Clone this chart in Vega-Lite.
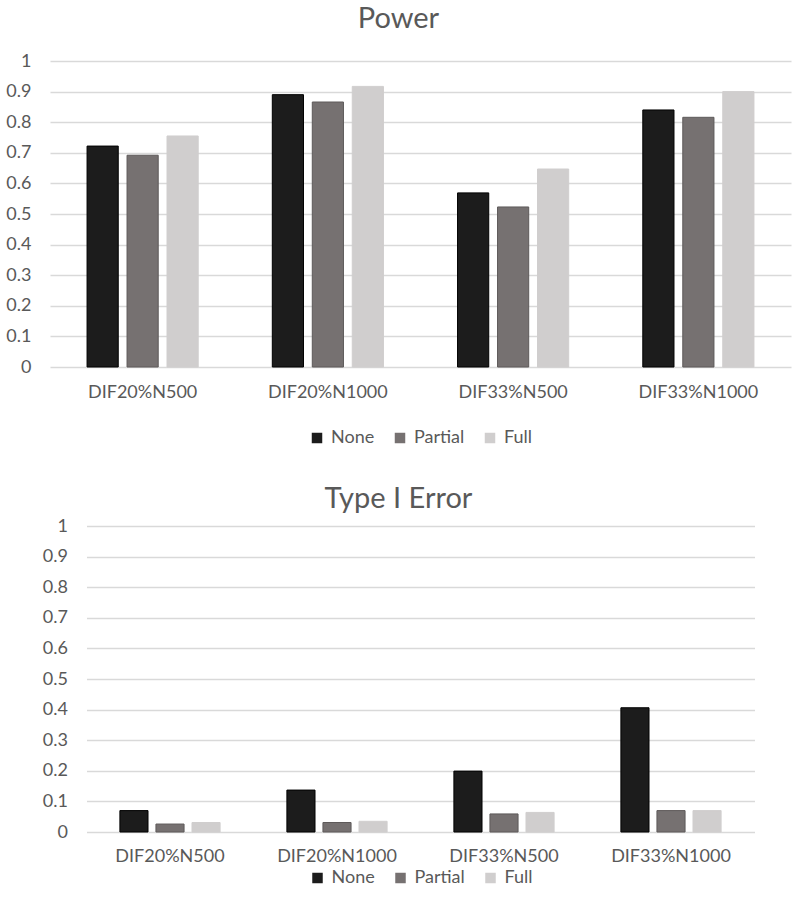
{
  "$schema": "https://vega.github.io/schema/vega-lite/v6.json",
  "padding": {"left": 5, "top": 5, "right": 5, "bottom": 5},
  "background": "white",
  "config": {
    "font": "Lato",
    "view": {"stroke": null},
    "title": {"fontSize": 29, "fontWeight": "normal", "color": "#595959", "anchor": "middle"},
    "axisY": {"grid": true, "gridColor": "#d9d9d9", "gridWidth": 1.4, "domain": false, "ticks": false, "labelFontSize": 18, "labelColor": "#595959", "labelPadding": 19, "title": null, "values": [0, 0.1, 0.2, 0.3, 0.4, 0.5, 0.6, 0.7, 0.8, 0.9, 1], "format": "~g"},
    "axisX": {"grid": false, "domain": false, "ticks": false, "labelFontSize": 18, "labelColor": "#595959", "labelPadding": 16, "labelAngle": 0, "title": null},
    "legend": {"orient": "bottom", "direction": "horizontal", "title": null, "labelFontSize": 18, "labelColor": "#595959", "symbolType": "square", "symbolSize": 110, "symbolStrokeWidth": 0, "columnPadding": 16, "labelOffset": 5, "layout": {"bottom": {"anchor": "middle"}}}
  },
  "datasets": {
    "power": [
      {"condition": "DIF20%N500", "method": "None", "value": 0.722},
      {"condition": "DIF20%N500", "method": "Partial", "value": 0.692},
      {"condition": "DIF20%N500", "method": "Full", "value": 0.755},
      {"condition": "DIF20%N1000", "method": "None", "value": 0.890},
      {"condition": "DIF20%N1000", "method": "Partial", "value": 0.866},
      {"condition": "DIF20%N1000", "method": "Full", "value": 0.917},
      {"condition": "DIF33%N500", "method": "None", "value": 0.569},
      {"condition": "DIF33%N500", "method": "Partial", "value": 0.523},
      {"condition": "DIF33%N500", "method": "Full", "value": 0.647},
      {"condition": "DIF33%N1000", "method": "None", "value": 0.840},
      {"condition": "DIF33%N1000", "method": "Partial", "value": 0.816},
      {"condition": "DIF33%N1000", "method": "Full", "value": 0.900}
    ],
    "typeI": [
      {"condition": "DIF20%N500", "method": "None", "value": 0.070},
      {"condition": "DIF20%N500", "method": "Partial", "value": 0.026},
      {"condition": "DIF20%N500", "method": "Full", "value": 0.031},
      {"condition": "DIF20%N1000", "method": "None", "value": 0.137},
      {"condition": "DIF20%N1000", "method": "Partial", "value": 0.031},
      {"condition": "DIF20%N1000", "method": "Full", "value": 0.035},
      {"condition": "DIF33%N500", "method": "None", "value": 0.199},
      {"condition": "DIF33%N500", "method": "Partial", "value": 0.059},
      {"condition": "DIF33%N500", "method": "Full", "value": 0.064},
      {"condition": "DIF33%N1000", "method": "None", "value": 0.406},
      {"condition": "DIF33%N1000", "method": "Partial", "value": 0.070},
      {"condition": "DIF33%N1000", "method": "Full", "value": 0.070}
    ]
  },
  "vconcat": [
    {
      "title": {"text": "Power", "frame": "bounds", "offset": 18},
      "data": {"name": "power"},
      "width": 741,
      "height": 306,
      "mark": {"type": "bar", "strokeWidth": 1},
      "encoding": {
        "x": {"field": "condition", "type": "nominal", "sort": ["DIF20%N500", "DIF20%N1000", "DIF33%N500", "DIF33%N1000"], "scale": {"paddingInner": 0.4, "paddingOuter": 0.2}},
        "xOffset": {"field": "method", "type": "nominal", "sort": ["None", "Partial", "Full"], "scale": {"paddingInner": 0.22, "paddingOuter": 0}},
        "y": {"field": "value", "type": "quantitative", "scale": {"domain": [0, 1], "nice": false}},
        "color": {"field": "method", "type": "nominal", "sort": ["None", "Partial", "Full"], "scale": {"domain": ["None", "Partial", "Full"], "range": ["#1c1c1c", "#767171", "#d0cece"]}, "legend": {"offset": 28}},
        "stroke": {"condition": [{"test": "datum.method === 'None'", "value": "#000000"}, {"test": "datum.method === 'Partial'", "value": "#5e5a5a"}], "value": "#d0cece"}
      }
    },
    {
      "title": {"text": "Type I Error", "frame": "bounds", "offset": 3},
      "data": {"name": "typeI"},
      "width": 668,
      "height": 306,
      "mark": {"type": "bar", "strokeWidth": 1},
      "encoding": {
        "x": {"field": "condition", "type": "nominal", "sort": ["DIF20%N500", "DIF20%N1000", "DIF33%N500", "DIF33%N1000"], "scale": {"paddingInner": 0.4, "paddingOuter": 0.2}, "axis": {"labelPadding": 15}},
        "xOffset": {"field": "method", "type": "nominal", "sort": ["None", "Partial", "Full"], "scale": {"paddingInner": 0.22, "paddingOuter": 0}},
        "y": {"field": "value", "type": "quantitative", "scale": {"domain": [0, 1], "nice": false}},
        "color": {"field": "method", "type": "nominal", "sort": ["None", "Partial", "Full"], "scale": {"domain": ["None", "Partial", "Full"], "range": ["#1c1c1c", "#767171", "#d0cece"]}, "legend": {"offset": 4}},
        "stroke": {"condition": [{"test": "datum.method === 'None'", "value": "#000000"}, {"test": "datum.method === 'Partial'", "value": "#5e5a5a"}], "value": "#d0cece"}
      }
    }
  ],
  "resolve": {"scale": {"x": "independent", "xOffset": "independent", "color": "independent"}, "legend": {"color": "independent"}},
  "spacing": 38,
  "center": true
}
